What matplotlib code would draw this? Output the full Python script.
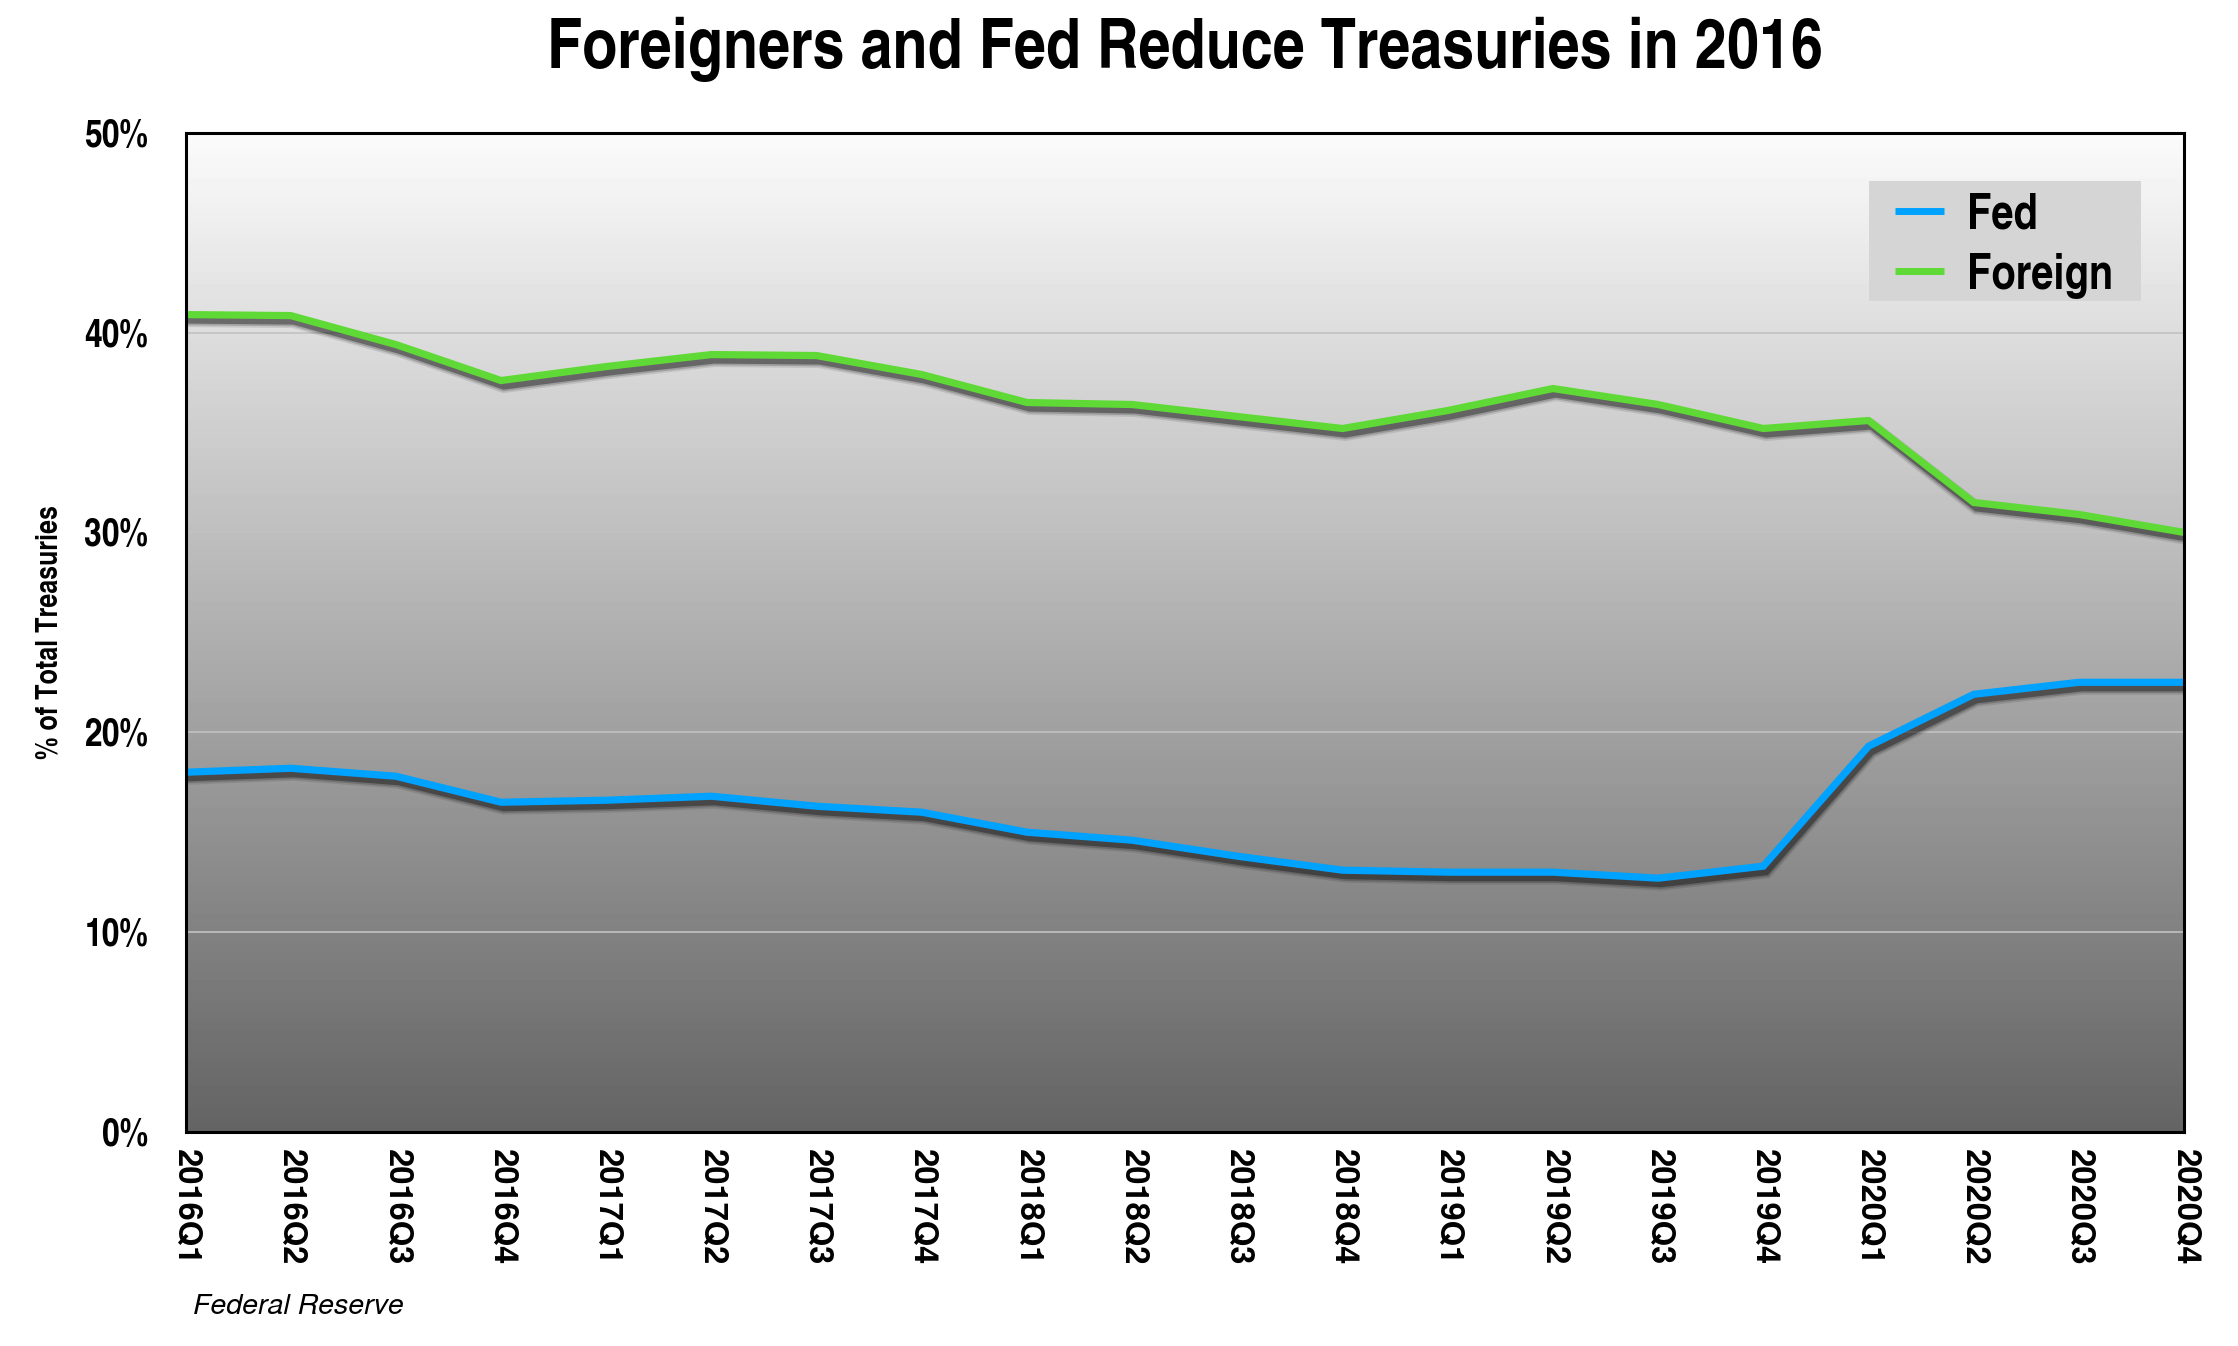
import numpy as np
import matplotlib
matplotlib.use('Agg')
import matplotlib.pyplot as plt
import matplotlib.patheffects as pe
from matplotlib.patches import Rectangle
from matplotlib.lines import Line2D

# Data (share of total Treasuries, %)
quarters = ['2016Q1', '2016Q2', '2016Q3', '2016Q4',
            '2017Q1', '2017Q2', '2017Q3', '2017Q4',
            '2018Q1', '2018Q2', '2018Q3', '2018Q4',
            '2019Q1', '2019Q2', '2019Q3', '2019Q4',
            '2020Q1', '2020Q2', '2020Q3', '2020Q4']
fed = [18.0, 18.2, 17.8, 16.5, 16.6, 16.8, 16.3, 16.0, 15.0, 14.6,
       13.8, 13.1, 13.0, 13.0, 12.7, 13.3, 19.3, 21.9, 22.5, 22.5]
foreign = [40.9, 40.85, 39.4, 37.6, 38.3, 38.9, 38.85, 37.9, 36.5, 36.4,
           35.8, 35.2, 36.1, 37.2, 36.4, 35.2, 35.6, 31.5, 30.9, 30.0]
y_ticks = [0, 10, 20, 30, 40, 50]

COND = ['TeX Gyre Heros Cn', 'Liberation Sans', 'DejaVu Sans']
REG = ['TeX Gyre Heros', 'Liberation Sans', 'DejaVu Sans']
plt.rcParams['font.family'] = COND

fig = plt.figure(figsize=(22.38, 13.46), dpi=100)
ax = fig.add_axes([0.0829, 0.159, 0.893, 0.7424])

# grey gradient background
grad = np.linspace(0.39, 0.985, 256).reshape(-1, 1)
ax.imshow(grad, extent=(0, 1, 0, 1), transform=ax.transAxes, origin='lower',
          aspect='auto', cmap='gray', vmin=0, vmax=1, zorder=0)

for yv in y_ticks[1:-1]:
    ax.axhline(yv, color='#c2c2c2', lw=1.2, zorder=1)

x = np.arange(len(quarters))


def shadow():
    return [pe.SimpleLineShadow(offset=(2, -4), shadow_color='black', alpha=0.1, linewidth=10),
            pe.SimpleLineShadow(offset=(2, -4), shadow_color='black', alpha=0.18, linewidth=7.5),
            pe.SimpleLineShadow(offset=(2, -4), shadow_color='black', alpha=0.35, linewidth=5),
            pe.Normal()]


l_fed, = ax.plot(x, fed, color='#00a2ff', lw=5.2, label='Fed', zorder=3,
                 solid_joinstyle='miter', path_effects=shadow())
l_for, = ax.plot(x, foreign, color='#5fd935', lw=5.2, label='Foreign', zorder=3,
                 solid_joinstyle='miter', path_effects=shadow())

ax.set_xlim(0, len(quarters) - 1)
ax.set_ylim(0, 50)
ax.set_xticks(x)
ax.set_xticklabels(quarters, rotation=270, fontsize=23.5, fontweight='bold', family=REG)
ax.set_yticks(y_ticks)
ax.set_yticklabels([f'{v}%' for v in y_ticks], fontsize=28, fontweight='bold')
ax.tick_params(length=0, pad=12)
ax.tick_params(axis='y', pad=27)
for s in ax.spines.values():
    s.set_linewidth(2.2)
    s.set_color('black')
    s.set_zorder(5)

ax.set_ylabel('% of Total Treasuries', fontsize=22, fontweight='bold')
ax.yaxis.set_label_coords(-0.0612, 0.5)

# legend box drawn by hand (grey panel, no frame)
ax.add_patch(Rectangle((0.8424, 0.8316), 0.1361, 0.1201, transform=ax.transAxes,
                       facecolor='#d5d5d5', edgecolor='none', zorder=4))
for line, yc in [(l_fed, 0.9216), (l_for, 0.8616)]:
    ax.add_line(Line2D([0.8554, 0.8799], [yc, yc], transform=ax.transAxes,
                       color=line.get_color(), lw=5, solid_capstyle='butt', zorder=5))
    ax.text(0.8914, yc - 0.0175, line.get_label(), transform=ax.transAxes, ha='left',
            va='baseline', fontsize=35, fontweight='bold', zorder=5)

fig.text(0.5297, 0.963, 'Foreigners and Fed Reduce Treasuries in 2016', ha='center', va='center',
         fontsize=50.5, fontweight='bold')
fig.text(0.0862, 0.029, 'Federal Reserve', ha='left', va='center', fontsize=20.5, style='italic',
         family=REG)

fig.savefig('out.png', dpi=100)
